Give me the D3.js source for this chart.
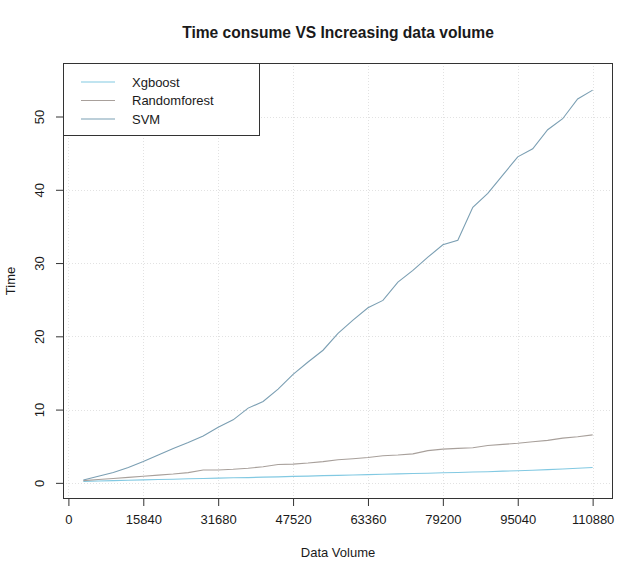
<!DOCTYPE html>
<html><head><meta charset="utf-8">
<script src="https://cdn.jsdelivr.net/npm/d3@7"></script>
<style>body{margin:0;background:#fff}svg{display:block}text{font-family:"Liberation Sans",Arial,sans-serif;fill:#1a1a1a}</style>
</head><body><svg id="c" width="640" height="578"></svg>
<script>
const dataVolume = [3168,6336,9504,12672,15840,19008,22176,25344,28512,31680,34848,38016,41184,44352,47520,50688,53856,57024,60192,63360,66528,69696,72864,76032,79200,82368,85536,88704,91872,95040,98208,101376,104544,107712,110880];
const xgboost = [0.2,0.25,0.3,0.35,0.4,0.45,0.5,0.55,0.6,0.65,0.7,0.72,0.78,0.82,0.88,0.92,0.98,1.02,1.08,1.12,1.18,1.22,1.28,1.32,1.38,1.42,1.48,1.52,1.6,1.65,1.72,1.8,1.9,2.0,2.1];
const randomforest = [0.3,0.45,0.6,0.75,0.9,1.05,1.2,1.4,1.75,1.75,1.85,2.0,2.2,2.5,2.55,2.7,2.9,3.15,3.3,3.45,3.7,3.8,3.95,4.4,4.6,4.7,4.8,5.1,5.25,5.4,5.6,5.8,6.1,6.3,6.55];
const svm = [0.4,0.9,1.4,2.1,2.9,3.8,4.7,5.5,6.4,7.6,8.6,10.2,11.1,12.8,14.8,16.5,18.1,20.4,22.2,23.9,24.9,27.4,29.0,30.8,32.5,33.1,37.6,39.5,42.0,44.5,45.6,48.2,49.7,52.4,53.6];
const seriesNames = ["Xgboost","Randomforest","SVM"];
const seriesColors = ["#82c9e2","#a8a09b","#7b9fb3"];
const xTicks = [0,15840,31680,47520,63360,79200,95040,110880];
const yTicks = [0,10,20,30,40,50];
const yLim = [0,55.1];
const title = "Time consume VS Increasing data volume";
const xLabel = "Data Volume", yLabel = "Time";

const L=63,R=613,T=63,B=499;
const svg=d3.select("#c");
const xr=[d3.min(dataVolume),d3.max(dataVolume)], xp=(xr[1]-xr[0])*0.04;
const yp=(yLim[1]-yLim[0])*0.04;
const x=d3.scaleLinear().domain([xr[0]-xp,xr[1]+xp]).range([L,R]);
const y=d3.scaleLinear().domain([yLim[0]-yp,yLim[1]+yp]).range([B,T]);

// grid
const g=svg.append("g").attr("stroke","#e2e2e2").attr("stroke-dasharray","1,2").attr("stroke-width",1);
xTicks.forEach(v=>g.append("line").attr("x1",Math.round(x(v))+0.5).attr("x2",Math.round(x(v))+0.5).attr("y1",T).attr("y2",B));
yTicks.forEach(v=>g.append("line").attr("y1",Math.round(y(v))+0.5).attr("y2",Math.round(y(v))+0.5).attr("x1",L).attr("x2",R));

// lines
const series=[xgboost,randomforest,svm];
const line=d3.line().x((d,i)=>x(dataVolume[i])).y(d=>y(d));
series.forEach((s,i)=>svg.append("path").datum(s).attr("d",line).attr("fill","none").attr("stroke",seriesColors[i]).attr("stroke-width",1.1));

// axes
const xa=svg.append("g").attr("transform",`translate(0,${B})`).call(d3.axisBottom(x).tickValues(xTicks).tickFormat(d3.format("d")).tickSize(7).tickPadding(9));
const ya=svg.append("g").attr("transform",`translate(${L},0)`).call(d3.axisLeft(y).tickValues(yTicks).tickSize(7));
[xa,ya].forEach(a=>{a.select(".domain").remove();a.selectAll("line").attr("stroke","#333");a.selectAll("text").attr("font-size",13).attr("font-family","Liberation Sans, Arial, sans-serif").attr("fill","#1a1a1a");});
ya.selectAll(".tick text").attr("text-anchor","middle").attr("dy",null).attr("dominant-baseline","central").attr("x",null)
  .attr("transform",function(){return "translate(-24,0) rotate(-90)";});
// box
svg.append("rect").attr("x",L+0.5).attr("y",T+0.5).attr("width",R-L-1).attr("height",B-T-1).attr("fill","none").attr("stroke","#333");

// legend
const lg=svg.append("g");
lg.append("rect").attr("x",L+0.5).attr("y",T+0.5).attr("width",196).attr("height",72).attr("fill","#fff").attr("stroke","#333");
seriesNames.forEach((n,i)=>{
  const yy=82+i*18.5;
  lg.append("line").attr("x1",81).attr("x2",115).attr("y1",yy).attr("y2",yy).attr("stroke",seriesColors[i]).attr("stroke-width",1.2);
  lg.append("text").attr("x",132).attr("y",yy).attr("dominant-baseline","central").attr("font-size",13).text(n);
});

// titles
svg.append("text").attr("x",(L+R)/2).attr("y",32.5).attr("text-anchor","middle").attr("dominant-baseline","central").attr("font-size",15.6).attr("font-weight","bold").text(title);
svg.append("text").attr("x",(L+R)/2).attr("y",552).attr("text-anchor","middle").attr("dominant-baseline","central").attr("font-size",13).text(xLabel);
svg.append("text").attr("transform",`translate(10,${(T+B)/2}) rotate(-90)`).attr("text-anchor","middle").attr("dominant-baseline","central").attr("font-size",13).text(yLabel);
</script></body></html>
